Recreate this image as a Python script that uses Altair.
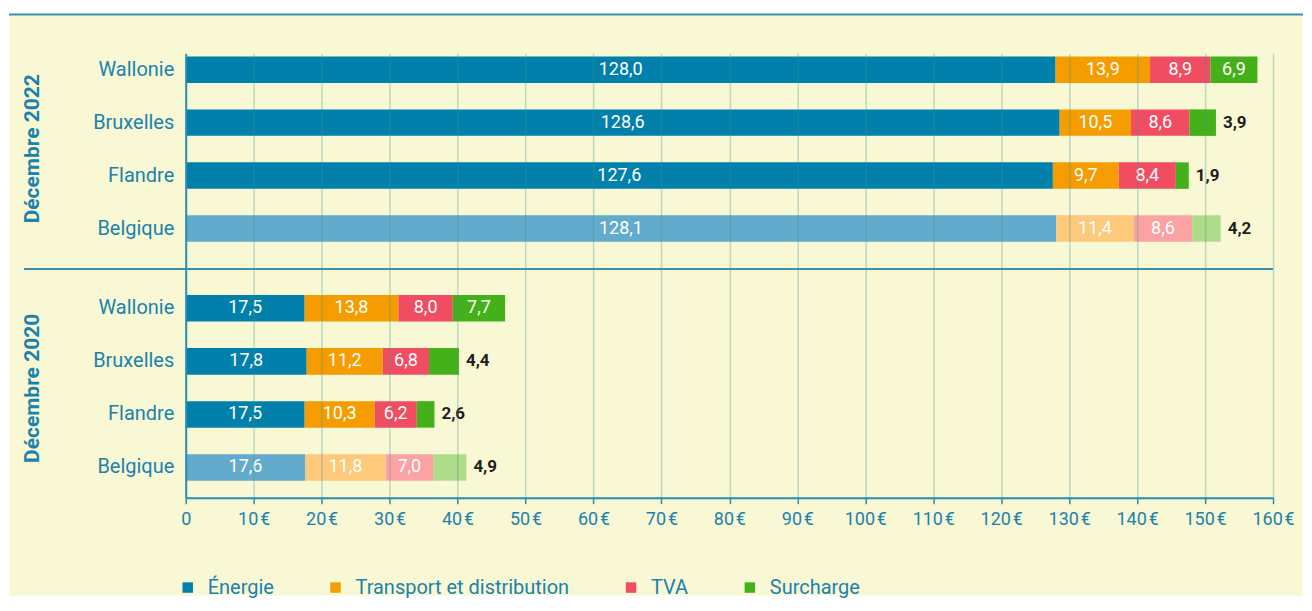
import altair as alt
import pandas as pd

# ---------------- data ----------------
regions = ["Wallonie", "Bruxelles", "Flandre", "Belgique"]
components = ["Énergie", "Transport et distribution", "TVA", "Surcharge"]

energie_2022 = [128.0, 128.6, 127.6, 128.1]
transport_2022 = [13.9, 10.5, 9.7, 11.4]
tva_2022 = [8.9, 8.6, 8.4, 8.6]
surcharge_2022 = [6.9, 3.9, 1.9, 4.2]

energie_2020 = [17.5, 17.8, 17.5, 17.6]
transport_2020 = [13.8, 11.2, 10.3, 11.8]
tva_2020 = [8.0, 6.8, 6.2, 7.0]
surcharge_2020 = [7.7, 4.4, 2.6, 4.9]

periods = ["Décembre 2022", "Décembre 2020"]
x_ticks = list(range(0, 161, 10))

# ---------------- styles ----------------
dark_colors = ["#0080aa", "#f59d00", "#f04d63", "#44b11a"]
light_colors = ["#62abcd", "#fec97a", "#fba3a3", "#afdc89"]
TEAL = "#1b82ad"
AXIS_TEAL = "#2a8db2"
BG = "#f8f8d4"
FONT = "Roboto"

series = {
    "Décembre 2022": [energie_2022, transport_2022, tva_2022, surcharge_2022],
    "Décembre 2020": [energie_2020, transport_2020, tva_2020, surcharge_2020],
}

rows = []
for p in periods:
    for i, r in enumerate(regions):
        for j, c in enumerate(components):
            key = c if r != "Belgique" else c + " (Belgique)"
            rows.append({"period": p, "region": r, "component": c, "order": j,
                         "key": key, "value": series[p][j][i]})
df = pd.DataFrame(rows)

color_domain = components + [c + " (Belgique)" for c in components]
color_range = dark_colors + light_colors

W = 1089
LABEL_EXPR = "replace(format(datum.value, '.1f'), '.', ',')"


def panel(period, h, po, al, title_y, bottom):
    base = alt.Chart(df).transform_filter(
        alt.datum.period == period
    ).transform_stack(
        stack="value", groupby=["region"], as_=["x0", "x1"],
        sort=[alt.SortField("order", order="ascending")]
    )
    if bottom:
        x_axis = alt.Axis(values=x_ticks, grid=True, gridColor="#3f9494",
                          gridOpacity=0.33, gridWidth=1.5, zindex=1,
                          domain=True, domainColor=AXIS_TEAL, domainWidth=2,
                          ticks=True, tickColor=AXIS_TEAL, tickSize=6, tickWidth=1.5,
                          labelExpr="datum.value == 0 ? '0' : datum.value + '\u200a€'",
                          labelFont=FONT, labelFontSize=18, labelColor=TEAL,
                          labelFlush=False, labelOverlap=False,
                          labelPadding=7, title=None)
    else:
        x_axis = alt.Axis(values=x_ticks, grid=True, gridColor="#3f9494",
                          gridOpacity=0.33, gridWidth=1.5, zindex=1,
                          domain=False, ticks=False, labels=False, title=None)
    y_scale = alt.Scale(domain=regions, paddingInner=0.5, paddingOuter=po, align=al)
    y_axis = alt.Axis(title=period, titleFont=FONT, titleFontSize=21,
                      titleFontWeight="bold", titleColor=TEAL, titleAngle=-90,
                      titleX=-153, titleY=title_y, titleAlign="center",
                      titleBaseline="middle",
                      labelFont=FONT, labelFontSize=20, labelColor=TEAL,
                      labelPadding=12, ticks=False, domain=True,
                      domainColor=AXIS_TEAL, domainWidth=2, zindex=1)

    bars = base.mark_bar().encode(
        x=alt.X("x0:Q", scale=alt.Scale(domain=[0, 160], nice=False, zero=True),
                axis=x_axis, title=None),
        x2="x1:Q",
        y=alt.Y("region:N", sort=regions, scale=y_scale, axis=y_axis, title=period),
        color=alt.Color("key:N", scale=alt.Scale(domain=color_domain, range=color_range),
                        legend=alt.Legend(orient="none", legendX=-8, legendY=525,
                                          direction="horizontal", columns=4,
                                          values=components, title=None,
                                          padding=0,
                                          symbolType="square", symbolSize=110,
                                          symbolStrokeWidth=0, labelFont=FONT,
                                          labelFontSize=20, labelColor=TEAL,
                                          labelLimit=0,
                                          columnPadding=51, labelOffset=10)),
    )
    inside = base.transform_filter(alt.datum.value > 5).transform_calculate(
        mid="(datum.x0 + datum.x1) / 2", label=LABEL_EXPR
    ).mark_text(color="white", font=FONT, fontSize=18, fontWeight="normal").encode(
        x=alt.X("mid:Q", title=None),
        y=alt.Y("region:N", sort=regions, title=period),
        text="label:N",
    )
    outside = base.transform_filter(alt.datum.value <= 5).transform_calculate(
        label=LABEL_EXPR
    ).mark_text(align="left", dx=7, color="#1e1e1e", font=FONT, fontSize=17,
                fontWeight="bold").encode(
        x=alt.X("x1:Q", title=None),
        y=alt.Y("region:N", sort=regions, title=period),
        text="label:N",
    )
    one = pd.DataFrame({"a": [0]})
    layers = []
    if not bottom:
        bg = alt.Chart(one).mark_rect(color=BG).encode(
            x=alt.value(-177), x2=alt.value(W + 30),
            y=alt.value(-38), y2=alt.value(543))
        topline = alt.Chart(one).mark_rule(color="#3a8fae", strokeWidth=2).encode(
            x=alt.value(-177), x2=alt.value(W + 30), y=alt.value(-39))
        layers += [bg, topline]
    layers += [bars, inside, outside]
    if bottom:
        sep = alt.Chart(one).mark_rule(color="#3a8fae", strokeWidth=2).encode(
            x=alt.value(-162), x2=alt.value(W), y=alt.value(0))
        layers.append(sep)
    return alt.layer(*layers).properties(width=W, height=h)


top = panel("Décembre 2022", 216, 0.2857, 0.1, 95, False)
bot = panel("Décembre 2020", 229, 0.405, 0.605, 119, True)

chart = alt.vconcat(top, bot, spacing=0, bounds="flush").properties(
    padding={"top": 5, "left": 0, "right": 0, "bottom": 0}
).configure(background="white").configure_view(stroke=None)

chart.save("out.html", embed_options={"renderer": "svg", "actions": False})
